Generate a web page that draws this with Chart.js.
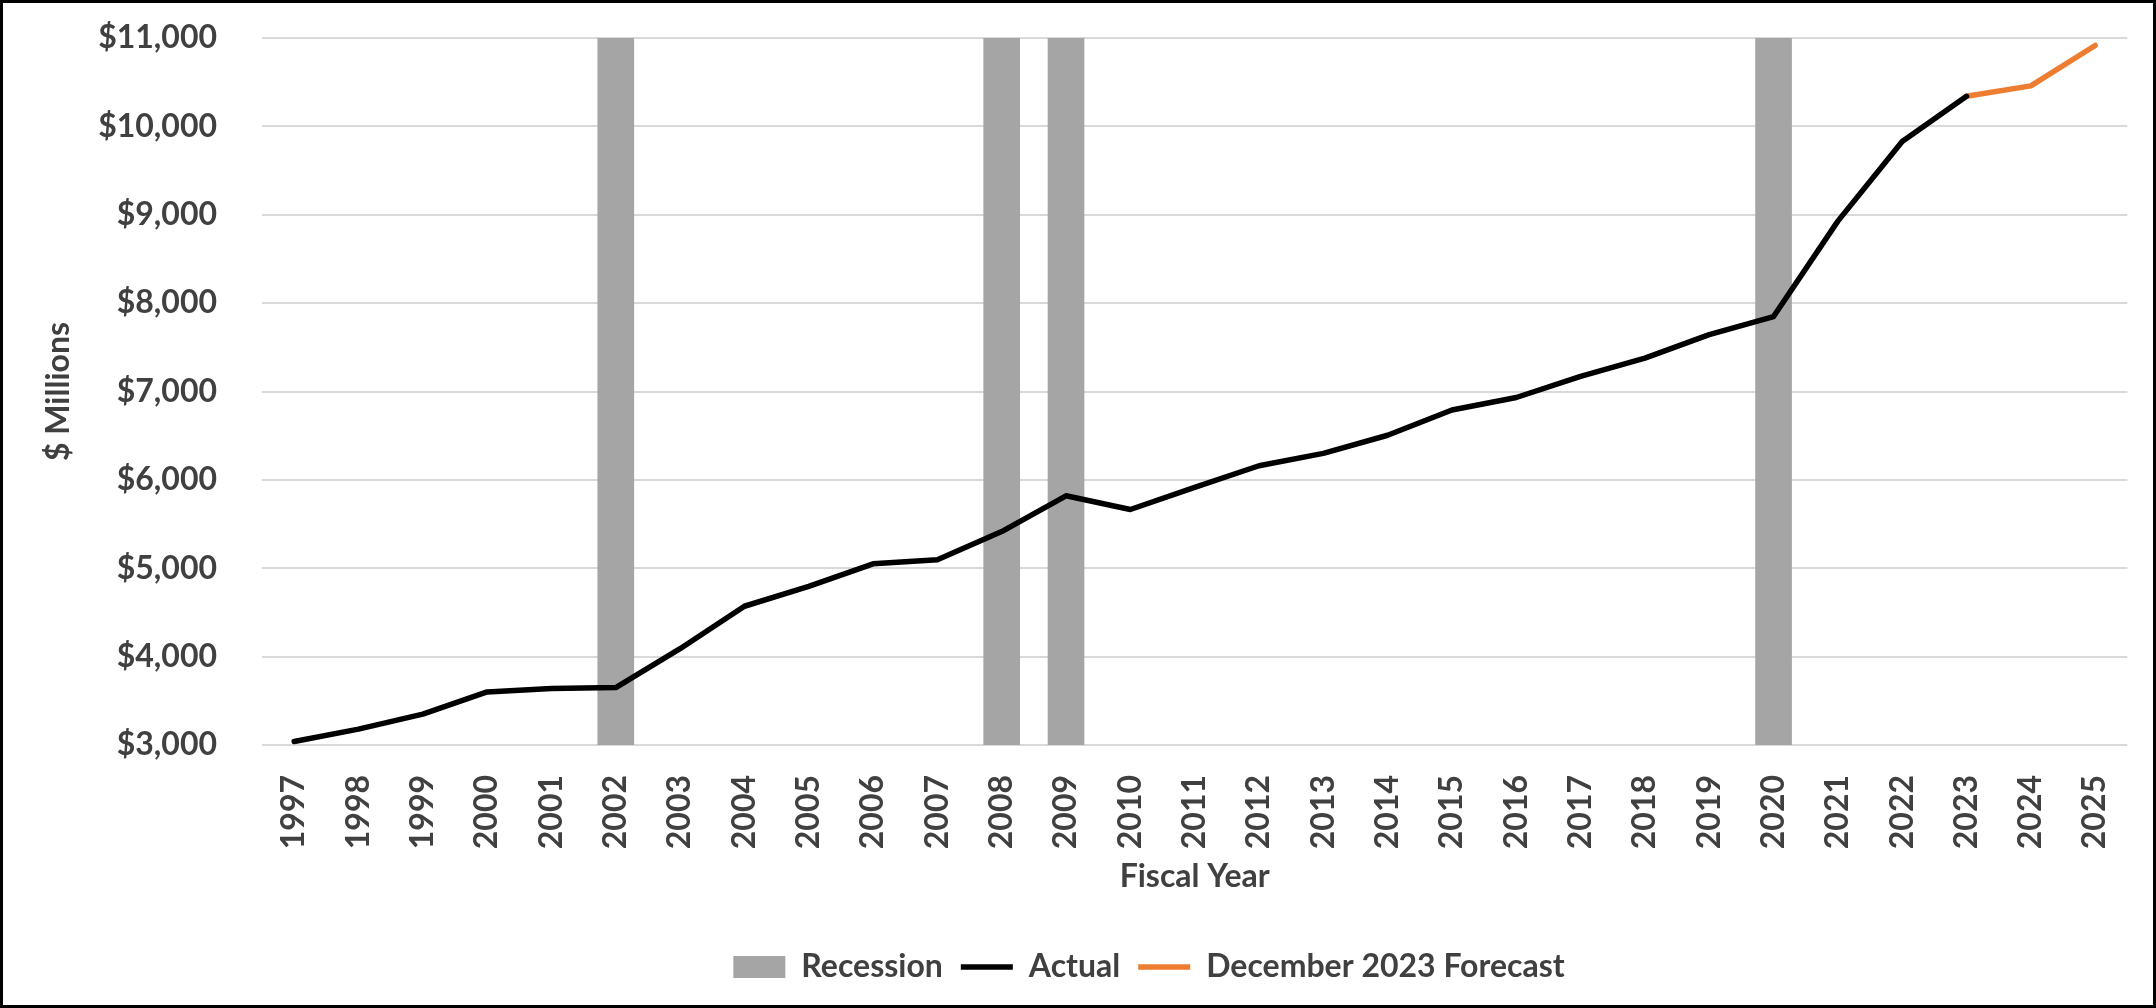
<!DOCTYPE html>
<html>
<head>
<meta charset="utf-8">
<script src="https://cdn.jsdelivr.net/npm/chart.js@4.4.1/dist/chart.umd.min.js"></script>
<style>
  html, body { margin: 0; padding: 0; background: #ffffff; }
  #wrap { position: relative; width: 2156px; height: 1008px; }
</style>
</head>
<body>
<div id="wrap"><canvas id="revChart" width="2156" height="1008"></canvas></div>
<script>
// fiscal years on the category axis
const years = ['1997', '1998', '1999', '2000', '2001', '2002', '2003', '2004', '2005', '2006',
    '2007', '2008', '2009', '2010', '2011', '2012', '2013', '2014', '2015', '2016',
    '2017', '2018', '2019', '2020', '2021', '2022', '2023', '2024', '2025'];

// $ millions
const actual = [3040, 3180, 3350, 3600, 3640, 3650, 4090, 4570, 4795, 5050,
    5095, 5415, 5820, 5665, 5915, 6160, 6300, 6505, 6790, 6932,
    7172, 7378, 7643, 7848, 8928, 9828, 10340, null, null];

const forecast = [null, null, null, null, null, null, null, null, null, null,
    null, null, null, null, null, null, null, null, null, null,
    null, null, null, null, null, null, 10340, 10458, 10915];

// recession shading reaches the top of the axis
const recession = [null, null, null, null, null, 11000, null, null, null, null,
    null, 11000, 11000, null, null, null, null, null, null, null,
    null, null, null, 11000, null, null, null, null, null];

const yTicks = [3000, 4000, 5000, 6000, 7000, 8000, 9000, 10000, 11000];

const textColor = '#404040';
const baseFont = { family: 'Lato', size: 32, weight: 'bold' };

// outer frame of the picture
const frame = {
    id: 'frame',
    afterDraw(chart) {
        const c = chart.ctx;
        c.save();
        c.strokeStyle = '#000000';
        c.lineWidth = 3;
        c.strokeRect(1.5, 1.5, chart.width - 3, chart.height - 3);
        c.restore();
    }
};

// the legend sits a bit right of the canvas centre in the original
const legendShift = {
    id: 'legendShift',
    afterLayout(chart) {
        const lg = chart.legend;
        if (lg) {
            lg.left += 84;
            lg.right += 84;
        }
    }
};

new Chart(document.getElementById('revChart'), {
    type: 'line',
    data: {
        labels: years,
        datasets: [
            {
                type: 'bar', label: 'Recession', data: recession, order: 3,
                backgroundColor: '#a5a5a5', borderWidth: 0,
                barPercentage: 0.57, categoryPercentage: 1, pointStyle: 'rect'
            },
            {
                label: 'Actual', data: actual, order: 1,
                borderColor: '#000000', backgroundColor: '#000000', borderWidth: 5.5,
                pointRadius: 0, pointBorderWidth: 5.5, pointStyle: 'line',
                tension: 0, borderJoinStyle: 'round', borderCapStyle: 'round'
            },
            {
                label: 'December 2023 Forecast', data: forecast, order: 2,
                borderColor: '#ed7d31', backgroundColor: '#ed7d31', borderWidth: 5.5,
                pointRadius: 0, pointBorderWidth: 5.5, pointStyle: 'line',
                tension: 0, borderJoinStyle: 'round', borderCapStyle: 'round'
            }
        ]
    },
    options: {
        responsive: false,
        devicePixelRatio: 1,
        animation: false,
        layout: { padding: { top: 38, right: 26, bottom: 15, left: 0 } },
        plugins: {
            tooltip: { enabled: false },
            legend: {
                position: 'bottom',
                labels: {
                    usePointStyle: true, pointStyleWidth: 52, boxHeight: 22,
                    padding: 18, color: textColor, font: baseFont,
                    sort: (a, b) => a.datasetIndex - b.datasetIndex
                }
            }
        },
        scales: {
            x: {
                offset: true,
                grid: { display: false },
                border: { display: false },
                ticks: { color: textColor, font: baseFont, minRotation: 90, maxRotation: 90, padding: 22, autoSkip: false },
                title: { display: true, text: 'Fiscal Year', color: textColor, font: baseFont, padding: { top: 0, bottom: 37 } },
                afterFit(scale) { scale.height = 188; }
            },
            y: {
                min: 3000, max: 11000,
                afterBuildTicks(scale) { scale.ticks = yTicks.map(v => ({ value: v })); },
                grid: { color: '#d9d9d9', lineWidth: 2, drawTicks: false },
                border: { display: false },
                ticks: {
                    color: textColor, font: baseFont, padding: 45,
                    callback: v => '$' + v.toLocaleString('en-US')
                },
                title: { display: true, text: '$ Millions', color: textColor, font: baseFont, padding: { top: 39, bottom: 0 } },
                afterFit(scale) {
                    scale.width = 262;
                    scale.paddingTop = 0;
                    scale.paddingBottom = 0;
                }
            }
        }
    },
    plugins: [frame, legendShift]
});
</script>
</body>
</html>
